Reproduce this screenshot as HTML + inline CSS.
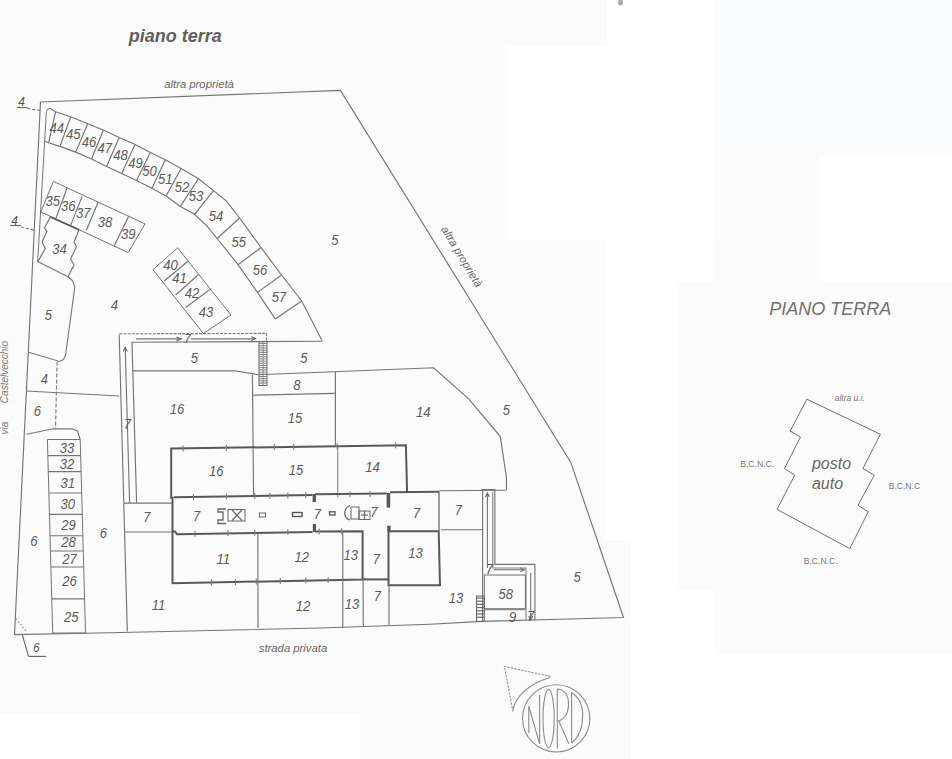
<!DOCTYPE html>
<html><head><meta charset="utf-8"><style>
html,body{margin:0;padding:0;background:#fbfbfb;}
svg{display:block;font-family:"Liberation Sans",sans-serif;}
</style></head><body>
<svg width="952" height="759" viewBox="0 0 952 759">

<rect x="0" y="0" width="952" height="759" fill="#fbfbfb"/>
<rect x="715" y="0" width="237" height="155" fill="#fafbfc"/>
<g fill="#ffffff">
<rect x="607" y="0" width="108" height="46"/>
<rect x="508" y="46" width="207" height="194"/>
<rect x="605" y="240" width="109" height="41"/>
<rect x="605" y="281" width="72" height="259"/>
<rect x="631" y="540" width="46" height="219"/>
<rect x="0" y="714" width="360" height="45"/>
<rect x="820" y="155" width="132" height="126"/>
<rect x="676" y="590" width="39" height="169"/>
<rect x="715" y="655" width="237" height="104"/>
</g>

<text transform="translate(128.7 36.2)" font-size="18" fill="#606060" font-style="italic" font-weight="bold" text-anchor="start" dominant-baseline="central">piano terra</text>
<text transform="translate(164.2 84.4)" font-size="11.3" fill="#666" font-style="italic" font-weight="normal" text-anchor="start" dominant-baseline="central">altra propriet&#224;</text>
<path d="M40.5 102.0 L340.4 90.4 L570.8 462.4 L623.5 617.5 L560.0 619.2 L482.0 621.4 L430.0 624.3 L320.0 628.0 L110.0 632.8 L14.5 634.6 L40.5 102.0" stroke="#747474" stroke-width="1.15" fill="none"/>
<text transform="translate(21.5 102.0)" font-size="12" fill="#555" font-style="italic" font-weight="normal" text-anchor="middle" dominant-baseline="central">4</text>
<path d="M16.8 107.5 L27.3 107.5" stroke="#666" stroke-width="1.15" fill="none"/>
<path d="M27.3 108.4 L40.0 110.5" stroke="#777" stroke-width="1.15" fill="none" stroke-dasharray="3 2"/>
<text transform="translate(14.7 220.5)" font-size="12" fill="#555" font-style="italic" font-weight="normal" text-anchor="middle" dominant-baseline="central">4</text>
<path d="M10.0 225.5 L21.0 225.5" stroke="#666" stroke-width="1.15" fill="none"/>
<path d="M21.0 227.0 L35.3 230.5" stroke="#777" stroke-width="1.15" fill="none" stroke-dasharray="3 2"/>
<path d="M50 108.3 Q46.6 108.5 46.3 112.5 L37.7 261.6" fill="none" stroke="#747474" stroke-width="1"/>
<path d="M50.0 108.3 L55.5 111.8 L70.7 116.8 L87.7 123.7 L103.4 130.0 L119.2 137.6 L135.0 144.5 L150.3 152.6 L165.3 159.8 L181.1 168.5 L198.5 178.7 L213.5 190.6 L226.2 200.9 L239.6 218.0 L250.7 233.3 L261.0 247.5 L281.5 275.0 L301.7 301.0 L322.0 340.4" stroke="#747474" stroke-width="1.15" fill="none"/>
<path d="M44.6 141.2 L48.6 142.8 L60.0 146.4 L75.7 152.1 L91.5 159.0 L106.6 166.6 L121.7 173.5 L136.5 180.5 L151.9 188.2 L166.1 196.1 L180.3 206.4 L194.5 214.3 L206.4 225.4 L217.0 238.5 L227.0 250.7 L238.0 264.7 L257.5 292.4 L275.2 318.9" stroke="#747474" stroke-width="1.15" fill="none"/>
<path d="M55.5 111.8 L48.6 142.8" stroke="#747474" stroke-width="1.15" fill="none"/>
<path d="M70.7 116.8 L60.0 146.4" stroke="#747474" stroke-width="1.15" fill="none"/>
<path d="M87.7 123.7 L75.7 152.1" stroke="#747474" stroke-width="1.15" fill="none"/>
<path d="M103.4 130.0 L91.5 159.0" stroke="#747474" stroke-width="1.15" fill="none"/>
<path d="M119.2 137.6 L106.6 166.6" stroke="#747474" stroke-width="1.15" fill="none"/>
<path d="M135.0 144.5 L121.7 173.5" stroke="#747474" stroke-width="1.15" fill="none"/>
<path d="M150.3 152.6 L136.5 180.5" stroke="#747474" stroke-width="1.15" fill="none"/>
<path d="M165.3 159.8 L151.9 188.2" stroke="#747474" stroke-width="1.15" fill="none"/>
<path d="M181.1 168.5 L166.1 196.1" stroke="#747474" stroke-width="1.15" fill="none"/>
<path d="M198.5 178.7 L180.3 206.4" stroke="#747474" stroke-width="1.15" fill="none"/>
<path d="M213.5 190.6 L194.5 214.3" stroke="#747474" stroke-width="1.15" fill="none"/>
<path d="M239.6 218.0 L217.0 238.5" stroke="#747474" stroke-width="1.15" fill="none"/>
<path d="M261.0 247.5 L238.0 264.7" stroke="#747474" stroke-width="1.15" fill="none"/>
<path d="M281.5 275.0 L257.5 292.4" stroke="#747474" stroke-width="1.15" fill="none"/>
<path d="M301.7 301.0 L275.2 318.9" stroke="#747474" stroke-width="1.15" fill="none"/>
<text transform="translate(56.8 128.1) scale(0.870 1)" font-size="15" fill="#5a5a5a" font-style="italic" font-weight="normal" text-anchor="middle" dominant-baseline="central">44</text>
<text transform="translate(73.2 133.2) scale(0.870 1)" font-size="15" fill="#5a5a5a" font-style="italic" font-weight="normal" text-anchor="middle" dominant-baseline="central">45</text>
<text transform="translate(88.9 141.4) scale(0.870 1)" font-size="15" fill="#5a5a5a" font-style="italic" font-weight="normal" text-anchor="middle" dominant-baseline="central">46</text>
<text transform="translate(104.7 147.7) scale(0.870 1)" font-size="15" fill="#5a5a5a" font-style="italic" font-weight="normal" text-anchor="middle" dominant-baseline="central">47</text>
<text transform="translate(120.5 154.6) scale(0.870 1)" font-size="15" fill="#5a5a5a" font-style="italic" font-weight="normal" text-anchor="middle" dominant-baseline="central">48</text>
<text transform="translate(135.6 162.2) scale(0.870 1)" font-size="15" fill="#5a5a5a" font-style="italic" font-weight="normal" text-anchor="middle" dominant-baseline="central">49</text>
<text transform="translate(149.5 170.8) scale(0.870 1)" font-size="15" fill="#5a5a5a" font-style="italic" font-weight="normal" text-anchor="middle" dominant-baseline="central">50</text>
<text transform="translate(165.3 178.7) scale(0.870 1)" font-size="15" fill="#5a5a5a" font-style="italic" font-weight="normal" text-anchor="middle" dominant-baseline="central">51</text>
<text transform="translate(181.9 186.6) scale(0.870 1)" font-size="15" fill="#5a5a5a" font-style="italic" font-weight="normal" text-anchor="middle" dominant-baseline="central">52</text>
<text transform="translate(196.1 196.1) scale(0.870 1)" font-size="15" fill="#5a5a5a" font-style="italic" font-weight="normal" text-anchor="middle" dominant-baseline="central">53</text>
<text transform="translate(215.9 215.9) scale(0.870 1)" font-size="15" fill="#5a5a5a" font-style="italic" font-weight="normal" text-anchor="middle" dominant-baseline="central">54</text>
<text transform="translate(238.8 241.2) scale(0.870 1)" font-size="15" fill="#5a5a5a" font-style="italic" font-weight="normal" text-anchor="middle" dominant-baseline="central">55</text>
<text transform="translate(260.0 269.7) scale(0.870 1)" font-size="15" fill="#5a5a5a" font-style="italic" font-weight="normal" text-anchor="middle" dominant-baseline="central">56</text>
<text transform="translate(279.0 296.2) scale(0.870 1)" font-size="15" fill="#5a5a5a" font-style="italic" font-weight="normal" text-anchor="middle" dominant-baseline="central">57</text>
<path d="M53.4 181.4 L145.0 223.9 L128.2 252.6 L40.8 211.9 L53.4 181.4" stroke="#747474" stroke-width="1" fill="none" stroke-linejoin="round"/>
<path d="M67.1 188.0 L55.8 218.7" stroke="#747474" stroke-width="1.15" fill="none"/>
<path d="M82.1 196.4 L70.7 225.1" stroke="#747474" stroke-width="1.15" fill="none"/>
<path d="M98.3 201.7 L86.3 230.5" stroke="#747474" stroke-width="1.15" fill="none"/>
<path d="M128.8 216.1 L114.4 245.5" stroke="#747474" stroke-width="1.15" fill="none"/>
<text transform="translate(52.8 201.1) scale(0.870 1)" font-size="15" fill="#5a5a5a" font-style="italic" font-weight="normal" text-anchor="middle" dominant-baseline="central">35</text>
<text transform="translate(68.3 205.9) scale(0.870 1)" font-size="15" fill="#5a5a5a" font-style="italic" font-weight="normal" text-anchor="middle" dominant-baseline="central">36</text>
<text transform="translate(83.3 212.5) scale(0.870 1)" font-size="15" fill="#5a5a5a" font-style="italic" font-weight="normal" text-anchor="middle" dominant-baseline="central">37</text>
<text transform="translate(104.9 222.1) scale(0.870 1)" font-size="15" fill="#5a5a5a" font-style="italic" font-weight="normal" text-anchor="middle" dominant-baseline="central">38</text>
<text transform="translate(128.2 234.1) scale(0.870 1)" font-size="15" fill="#5a5a5a" font-style="italic" font-weight="normal" text-anchor="middle" dominant-baseline="central">39</text>
<path d="M50.4 217.0 L44.5 228.0 L47.0 231.3 L42.0 242.3 L45.4 248.2 L40.3 257.4 L37.8 261.6 L68.0 276.7 L74.0 265.0 L70.6 259.0 L76.5 246.5 L74.0 242.3 L79.0 229.7" stroke="#747474" stroke-width="1.15" fill="none"/>
<path d="M50.4 217.0 L79.0 229.7" stroke="#555" stroke-width="1.6" fill="none"/>
<text transform="translate(59.4 248.4) scale(0.870 1)" font-size="15" fill="#5a5a5a" font-style="italic" font-weight="normal" text-anchor="middle" dominant-baseline="central">34</text>
<path d="M68.0 276.7 L72.5 280.5 L74.8 287.0 L65.5 355.6 L63.5 359.5 L59.7 361.5 L28.6 352.3" stroke="#7a7a7a" stroke-width="1.15" fill="none"/>
<path d="M57.1 361.5 L55.5 428.8" stroke="#7a7a7a" stroke-width="1.15" fill="none" stroke-dasharray="4 2"/>
<path d="M26.0 391.0 L119.3 396.0" stroke="#747474" stroke-width="1.15" fill="none"/>
<path d="M177.6 247.8 L231.0 315.0 L203.4 333.5 L153.0 269.7 L177.6 247.8" stroke="#747474" stroke-width="1" fill="none" stroke-linejoin="round"/>
<path d="M188.2 261.0 L164.3 281.0" stroke="#747474" stroke-width="1.15" fill="none"/>
<path d="M198.3 274.8 L175.6 295.0" stroke="#747474" stroke-width="1.15" fill="none"/>
<path d="M211.0 288.6 L185.7 307.5" stroke="#747474" stroke-width="1.15" fill="none"/>
<text transform="translate(170.6 264.7) scale(0.870 1)" font-size="15" fill="#5a5a5a" font-style="italic" font-weight="normal" text-anchor="middle" dominant-baseline="central">40</text>
<text transform="translate(179.4 277.3) scale(0.870 1)" font-size="15" fill="#5a5a5a" font-style="italic" font-weight="normal" text-anchor="middle" dominant-baseline="central">41</text>
<text transform="translate(192.0 292.4) scale(0.870 1)" font-size="15" fill="#5a5a5a" font-style="italic" font-weight="normal" text-anchor="middle" dominant-baseline="central">42</text>
<text transform="translate(205.9 311.3) scale(0.870 1)" font-size="15" fill="#5a5a5a" font-style="italic" font-weight="normal" text-anchor="middle" dominant-baseline="central">43</text>
<path d="M119.2 333.8 L266.4 333.4 L266.4 342.0" stroke="#777" stroke-width="1.15" fill="none" stroke-dasharray="3 1.2"/>
<path d="M119.2 334.7 L127.3 631.4" stroke="#747474" stroke-width="1.15" fill="none"/>
<path d="M322.6 341.2 L132.0 342.3 L136.6 503.0" stroke="#747474" stroke-width="1.15" fill="none"/>
<path d="M129.6 503.0 L125.2 347.0" stroke="#777" stroke-width="1.15" fill="none"/>
<path d="M136.0 338.9 L182.0 338.9" stroke="#777" stroke-width="1.15" fill="none"/>
<path d="M191.0 338.9 L255.6 338.9" stroke="#777" stroke-width="1.15" fill="none"/>
<text transform="translate(187.4 338.9)" font-size="12" fill="#5a5a5a" font-style="italic" font-weight="normal" text-anchor="middle" dominant-baseline="central">7</text>
<text transform="translate(127.3 423.2) scale(0.870 1)" font-size="15" fill="#5a5a5a" font-style="italic" font-weight="normal" text-anchor="middle" dominant-baseline="central">7</text>
<path d="M124.0 503.1 L172.4 503.1" stroke="#747474" stroke-width="1.15" fill="none"/>
<path d="M125.0 532.0 L173.6 532.0" stroke="#747474" stroke-width="1.15" fill="none"/>
<rect x="259" y="341.5" width="8" height="44" fill="none" stroke="#666" stroke-width="1"/>
<path d="M259.0 343.5 L267.0 343.5" stroke="#777" stroke-width="0.9" fill="none"/>
<path d="M259.0 345.7 L267.0 345.7" stroke="#777" stroke-width="0.9" fill="none"/>
<path d="M259.0 347.9 L267.0 347.9" stroke="#777" stroke-width="0.9" fill="none"/>
<path d="M259.0 350.1 L267.0 350.1" stroke="#777" stroke-width="0.9" fill="none"/>
<path d="M259.0 352.3 L267.0 352.3" stroke="#777" stroke-width="0.9" fill="none"/>
<path d="M259.0 354.5 L267.0 354.5" stroke="#777" stroke-width="0.9" fill="none"/>
<path d="M259.0 356.7 L267.0 356.7" stroke="#777" stroke-width="0.9" fill="none"/>
<path d="M259.0 358.9 L267.0 358.9" stroke="#777" stroke-width="0.9" fill="none"/>
<path d="M259.0 361.1 L267.0 361.1" stroke="#777" stroke-width="0.9" fill="none"/>
<path d="M259.0 363.3 L267.0 363.3" stroke="#777" stroke-width="0.9" fill="none"/>
<path d="M259.0 365.5 L267.0 365.5" stroke="#777" stroke-width="0.9" fill="none"/>
<path d="M259.0 367.7 L267.0 367.7" stroke="#777" stroke-width="0.9" fill="none"/>
<path d="M259.0 369.9 L267.0 369.9" stroke="#777" stroke-width="0.9" fill="none"/>
<path d="M259.0 372.1 L267.0 372.1" stroke="#777" stroke-width="0.9" fill="none"/>
<path d="M259.0 374.3 L267.0 374.3" stroke="#777" stroke-width="0.9" fill="none"/>
<path d="M259.0 376.5 L267.0 376.5" stroke="#777" stroke-width="0.9" fill="none"/>
<path d="M259.0 378.7 L267.0 378.7" stroke="#777" stroke-width="0.9" fill="none"/>
<path d="M259.0 380.9 L267.0 380.9" stroke="#777" stroke-width="0.9" fill="none"/>
<path d="M259.0 383.1 L267.0 383.1" stroke="#777" stroke-width="0.9" fill="none"/>
<path d="M263.0 342.0 L263.0 385.0" stroke="#777" stroke-width="0.8" fill="none"/>
<path d="M176.5 341.0 L180.5 339.0 L176.5 337.0" stroke="#666" stroke-width="1.15" fill="none"/>
<path d="M251.3 340.6 L255.3 338.6 L251.3 336.6" stroke="#666" stroke-width="1.15" fill="none"/>
<path d="M127.3 351.4 L125.2 347.5 L123.3 351.6" stroke="#666" stroke-width="1.15" fill="none"/>
<path d="M489.4 497.0 L487.4 493.0 L485.4 497.0" stroke="#666" stroke-width="1.15" fill="none"/>
<path d="M520.3 571.7 L524.3 569.7 L520.3 567.7" stroke="#666" stroke-width="1.15" fill="none"/>
<path d="M528.7 616.0 L530.7 620.0 L532.7 616.0" stroke="#666" stroke-width="1.15" fill="none"/>
<path d="M132.0 370.8 L234.8 370.8 L258.0 374.7 L433.6 367.8 L468.7 398.8 L500.3 436.6 L506.5 478.0 L506.4 490.2" stroke="#747474" stroke-width="1.15" fill="none"/>
<path d="M252.4 374.7 L253.6 497.0" stroke="#747474" stroke-width="1.15" fill="none"/>
<path d="M252.4 395.2 L335.4 393.4" stroke="#747474" stroke-width="1.15" fill="none"/>
<path d="M335.4 372.0 L335.4 445.2" stroke="#747474" stroke-width="1.15" fill="none"/>
<path d="M337.7 445.2 L337.7 497.0" stroke="#888" stroke-width="1.15" fill="none"/>
<path d="M171.2 499.0 L171.2 448.6 L405.9 445.2 L407.1 492.3" stroke="#585858" stroke-width="2" fill="none"/>
<path d="M173.6 497.3 L312.6 495.0" stroke="#585858" stroke-width="2" fill="none"/>
<rect x="312.6" y="494" width="3.4" height="8" fill="#585858"/>
<path d="M315.0 494.2 L386.6 493.4" stroke="#585858" stroke-width="2" fill="none"/>
<rect x="386.6" y="493" width="3.6" height="14.6" fill="#585858"/>
<path d="M390.0 492.3 L439.3 491.8" stroke="#585858" stroke-width="2" fill="none"/>
<path d="M172.5 497.0 L172.5 583.3 L362.6 579.4 L362.6 531.2 L315.0 531.5" stroke="#585858" stroke-width="2" fill="none"/>
<path d="M172.5 531.5 L175.0 531.5 L177.0 534.3 L312.6 532.0" stroke="#585858" stroke-width="2" fill="none"/>
<rect x="312.8" y="524" width="3.2" height="8" fill="#585858"/>
<rect x="387.4" y="525.7" width="3.2" height="6" fill="#585858"/>
<path d="M388.5 526.0 L388.5 585.2 L440.0 585.2 L438.7 531.2 L389.0 531.2" stroke="#585858" stroke-width="2" fill="none"/>
<path d="M439.0 491.8 L439.0 531.2" stroke="#6a6a6a" stroke-width="1.3" fill="none"/>
<path d="M362.6 579.4 L388.5 579.4" stroke="#585858" stroke-width="2" fill="none"/>
<path d="M257.9 534.0 L258.0 628.0" stroke="#747474" stroke-width="1.15" fill="none"/>
<path d="M342.8 531.0 L342.8 628.0" stroke="#747474" stroke-width="1.15" fill="none"/>
<path d="M363.1 579.0 L363.3 626.0" stroke="#747474" stroke-width="1.15" fill="none"/>
<path d="M389.0 585.0 L389.0 625.0" stroke="#747474" stroke-width="1.15" fill="none"/>
<path d="M441.0 529.7 L482.6 529.7" stroke="#747474" stroke-width="1.15" fill="none"/>
<path d="M439.3 490.8 L505.7 490.2" stroke="#747474" stroke-width="1.15" fill="none"/>
<path d="M482.6 490.0 L482.6 621.0" stroke="#747474" stroke-width="1.15" fill="none"/>
<path d="M183.0 445.4 L183.0 451.4" stroke="#808080" stroke-width="1.15" fill="none"/>
<path d="M226.4 444.8 L226.4 450.8" stroke="#808080" stroke-width="1.15" fill="none"/>
<path d="M274.3 444.1 L274.3 450.1" stroke="#808080" stroke-width="1.15" fill="none"/>
<path d="M293.7 443.8 L293.7 449.8" stroke="#808080" stroke-width="1.15" fill="none"/>
<path d="M337.2 443.2 L337.2 449.2" stroke="#808080" stroke-width="1.15" fill="none"/>
<path d="M395.5 442.3 L395.5 448.3" stroke="#808080" stroke-width="1.15" fill="none"/>
<path d="M193.4 494.0 L193.4 500.0" stroke="#808080" stroke-width="1.15" fill="none"/>
<path d="M226.4 493.4 L226.4 499.4" stroke="#808080" stroke-width="1.15" fill="none"/>
<path d="M254.8 492.9 L254.8 498.9" stroke="#808080" stroke-width="1.15" fill="none"/>
<path d="M269.8 492.7 L269.8 498.7" stroke="#808080" stroke-width="1.15" fill="none"/>
<path d="M287.8 492.4 L287.8 498.4" stroke="#808080" stroke-width="1.15" fill="none"/>
<path d="M305.7 492.1 L305.7 498.1" stroke="#808080" stroke-width="1.15" fill="none"/>
<path d="M350.0 491.3 L350.0 497.3" stroke="#808080" stroke-width="1.15" fill="none"/>
<path d="M370.0 491.0 L370.0 497.0" stroke="#808080" stroke-width="1.15" fill="none"/>
<path d="M195.0 530.7 L195.0 536.7" stroke="#808080" stroke-width="1.15" fill="none"/>
<path d="M227.9 530.1 L227.9 536.1" stroke="#808080" stroke-width="1.15" fill="none"/>
<path d="M254.8 529.7 L254.8 535.7" stroke="#808080" stroke-width="1.15" fill="none"/>
<path d="M287.8 529.1 L287.8 535.1" stroke="#808080" stroke-width="1.15" fill="none"/>
<path d="M319.2 528.6 L319.2 534.6" stroke="#808080" stroke-width="1.15" fill="none"/>
<path d="M341.6 528.2 L341.6 534.2" stroke="#808080" stroke-width="1.15" fill="none"/>
<path d="M211.4 579.5 L211.4 585.5" stroke="#808080" stroke-width="1.15" fill="none"/>
<path d="M235.4 579.0 L235.4 585.0" stroke="#808080" stroke-width="1.15" fill="none"/>
<path d="M256.3 578.6 L256.3 584.6" stroke="#808080" stroke-width="1.15" fill="none"/>
<path d="M280.3 578.1 L280.3 584.1" stroke="#808080" stroke-width="1.15" fill="none"/>
<path d="M305.7 577.6 L305.7 583.6" stroke="#808080" stroke-width="1.15" fill="none"/>
<path d="M328.2 577.1 L328.2 583.1" stroke="#808080" stroke-width="1.15" fill="none"/>
<path d="M226 509 L218 509 L218 512 L223 512 L223 520 L218 520 L218 523.5 L226 523.5" fill="none" stroke="#666" stroke-width="1.3"/>
<rect x="228" y="509.5" width="17" height="11.5" fill="none" stroke="#666" stroke-width="1"/>
<path d="M232.0 510.0 L242.0 520.5" stroke="#666" stroke-width="1.15" fill="none"/>
<path d="M232.0 520.5 L242.0 510.0" stroke="#666" stroke-width="1.15" fill="none"/>
<rect x="259.5" y="513" width="6" height="4" fill="none" stroke="#666" stroke-width="1"/>
<rect x="292.5" y="512.5" width="9.5" height="4" fill="none" stroke="#555" stroke-width="1.4"/>
<rect x="329.5" y="511.8" width="5.5" height="3.2" fill="none" stroke="#555" stroke-width="1.3"/>
<path d="M350 505.5 C343 508 343 518 350 520" fill="none" stroke="#666" stroke-width="1.2"/>
<rect x="351" y="507" width="8" height="12" fill="none" stroke="#666" stroke-width="1"/>
<rect x="359" y="511" width="11" height="8.5" fill="none" stroke="#666" stroke-width="1"/>
<path d="M361.0 515.0 L368.0 515.0" stroke="#666" stroke-width="1.15" fill="none"/>
<path d="M364.5 511.0 L364.5 519.5" stroke="#666" stroke-width="1.15" fill="none"/>
<path d="M481.7 489.5 L494.8 489.5 L494.8 564.4 L534.9 564.4 L534.9 620.3" stroke="#747474" stroke-width="1.15" fill="none"/>
<path d="M487.4 568.0 L487.4 493.0" stroke="#777" stroke-width="1.15" fill="none"/>
<path d="M492.7 492.0 L492.7 568.0 L526.0 568.0 L526.0 620.0" stroke="#888" stroke-width="1.15" fill="none"/>
<path d="M494.0 569.7 L524.3 569.7" stroke="#777" stroke-width="1.15" fill="none"/>
<path d="M530.7 573.0 L530.7 620.0" stroke="#777" stroke-width="1.15" fill="none"/>
<rect x="484.3" y="575" width="41.1" height="33.7" fill="none" stroke="#707070" stroke-width="1"/>
<path d="M484.3 609.7 L525.4 609.7" stroke="#747474" stroke-width="1.15" fill="none"/>
<rect x="476.5" y="596" width="7.8" height="25.4" fill="none" stroke="#666" stroke-width="1"/>
<path d="M476.5 598.0 L484.3 598.0" stroke="#666" stroke-width="1.15" fill="none"/>
<path d="M476.5 601.2 L484.3 601.2" stroke="#666" stroke-width="1.15" fill="none"/>
<path d="M476.5 604.4 L484.3 604.4" stroke="#666" stroke-width="1.15" fill="none"/>
<path d="M476.5 607.6 L484.3 607.6" stroke="#666" stroke-width="1.15" fill="none"/>
<path d="M476.5 610.8 L484.3 610.8" stroke="#666" stroke-width="1.15" fill="none"/>
<path d="M476.5 614.0 L484.3 614.0" stroke="#666" stroke-width="1.15" fill="none"/>
<path d="M476.5 617.2 L484.3 617.2" stroke="#666" stroke-width="1.15" fill="none"/>
<path d="M26.7 434.2 L53.4 428.8 L72.0 428.8 L77.5 431.0 L80.2 439.5" stroke="#747474" stroke-width="1.15" fill="none"/>
<path d="M47.4 439.5 L80.2 439.5 L85.5 633.0 L52.7 633.0 L47.4 439.5" stroke="#747474" stroke-width="1" fill="none" stroke-linejoin="round"/>
<path d="M47.8 455.6 L80.6 455.6" stroke="#747474" stroke-width="1.15" fill="none"/>
<path d="M48.3 471.6 L81.1 471.6" stroke="#747474" stroke-width="1.15" fill="none"/>
<path d="M48.9 493.0 L81.7 493.0" stroke="#747474" stroke-width="1.15" fill="none"/>
<path d="M49.4 514.3 L82.2 514.3" stroke="#747474" stroke-width="1.15" fill="none"/>
<path d="M50.0 535.7 L82.8 535.7" stroke="#747474" stroke-width="1.15" fill="none"/>
<path d="M50.5 551.0 L83.3 551.0" stroke="#747474" stroke-width="1.15" fill="none"/>
<path d="M50.9 567.0 L83.7 567.0" stroke="#747474" stroke-width="1.15" fill="none"/>
<path d="M51.8 598.8 L84.6 598.8" stroke="#747474" stroke-width="1.15" fill="none"/>
<text transform="translate(67.0 447.7) scale(0.870 1)" font-size="15" fill="#5a5a5a" font-style="italic" font-weight="normal" text-anchor="middle" dominant-baseline="central">33</text>
<text transform="translate(67.0 463.4) scale(0.870 1)" font-size="15" fill="#5a5a5a" font-style="italic" font-weight="normal" text-anchor="middle" dominant-baseline="central">32</text>
<text transform="translate(67.7 482.3) scale(0.870 1)" font-size="15" fill="#5a5a5a" font-style="italic" font-weight="normal" text-anchor="middle" dominant-baseline="central">31</text>
<text transform="translate(67.7 503.7) scale(0.870 1)" font-size="15" fill="#5a5a5a" font-style="italic" font-weight="normal" text-anchor="middle" dominant-baseline="central">30</text>
<text transform="translate(68.4 525.0) scale(0.870 1)" font-size="15" fill="#5a5a5a" font-style="italic" font-weight="normal" text-anchor="middle" dominant-baseline="central">29</text>
<text transform="translate(68.4 541.8) scale(0.870 1)" font-size="15" fill="#5a5a5a" font-style="italic" font-weight="normal" text-anchor="middle" dominant-baseline="central">28</text>
<text transform="translate(69.5 558.9) scale(0.870 1)" font-size="15" fill="#5a5a5a" font-style="italic" font-weight="normal" text-anchor="middle" dominant-baseline="central">27</text>
<text transform="translate(69.5 581.0) scale(0.870 1)" font-size="15" fill="#5a5a5a" font-style="italic" font-weight="normal" text-anchor="middle" dominant-baseline="central">26</text>
<text transform="translate(71.3 616.3) scale(0.870 1)" font-size="15" fill="#5a5a5a" font-style="italic" font-weight="normal" text-anchor="middle" dominant-baseline="central">25</text>
<path d="M22.1 634.2 L28.5 656.4" stroke="#666" stroke-width="1.15" fill="none"/>
<path d="M15.8 618.4 L26.0 631.0" stroke="#999" stroke-width="1.15" fill="none" stroke-dasharray="2 1.5"/>
<path d="M28.5 656.4 L45.8 656.4" stroke="#666" stroke-width="1.15" fill="none"/>
<text transform="translate(36.4 648.0) scale(0.920 1)" font-size="13" fill="#5a5a5a" font-style="italic" font-weight="normal" text-anchor="middle" dominant-baseline="central">6</text>
<ellipse cx="620.5" cy="2.5" rx="2.5" ry="3" fill="#aaa"/>
<text transform="translate(335.0 239.2) scale(0.870 1)" font-size="15" fill="#5a5a5a" font-style="italic" font-weight="normal" text-anchor="middle" dominant-baseline="central">5</text>
<text transform="translate(114.3 305.0) scale(0.870 1)" font-size="15" fill="#5a5a5a" font-style="italic" font-weight="normal" text-anchor="middle" dominant-baseline="central">4</text>
<text transform="translate(48.3 315.0) scale(0.870 1)" font-size="15" fill="#5a5a5a" font-style="italic" font-weight="normal" text-anchor="middle" dominant-baseline="central">5</text>
<text transform="translate(44.5 379.0) scale(0.870 1)" font-size="15" fill="#5a5a5a" font-style="italic" font-weight="normal" text-anchor="middle" dominant-baseline="central">4</text>
<text transform="translate(37.4 411.0) scale(0.870 1)" font-size="15" fill="#5a5a5a" font-style="italic" font-weight="normal" text-anchor="middle" dominant-baseline="central">6</text>
<text transform="translate(194.4 357.4) scale(0.870 1)" font-size="15" fill="#5a5a5a" font-style="italic" font-weight="normal" text-anchor="middle" dominant-baseline="central">5</text>
<text transform="translate(304.0 357.4) scale(0.870 1)" font-size="15" fill="#5a5a5a" font-style="italic" font-weight="normal" text-anchor="middle" dominant-baseline="central">5</text>
<text transform="translate(297.0 385.0) scale(0.870 1)" font-size="15" fill="#5a5a5a" font-style="italic" font-weight="normal" text-anchor="middle" dominant-baseline="central">8</text>
<text transform="translate(177.0 408.2) scale(0.870 1)" font-size="15" fill="#5a5a5a" font-style="italic" font-weight="normal" text-anchor="middle" dominant-baseline="central">16</text>
<text transform="translate(294.9 417.4) scale(0.870 1)" font-size="15" fill="#5a5a5a" font-style="italic" font-weight="normal" text-anchor="middle" dominant-baseline="central">15</text>
<text transform="translate(423.2 411.7) scale(0.870 1)" font-size="15" fill="#5a5a5a" font-style="italic" font-weight="normal" text-anchor="middle" dominant-baseline="central">14</text>
<text transform="translate(506.5 410.0) scale(0.870 1)" font-size="15" fill="#5a5a5a" font-style="italic" font-weight="normal" text-anchor="middle" dominant-baseline="central">5</text>
<text transform="translate(216.3 470.6) scale(0.870 1)" font-size="15" fill="#5a5a5a" font-style="italic" font-weight="normal" text-anchor="middle" dominant-baseline="central">16</text>
<text transform="translate(296.0 469.4) scale(0.870 1)" font-size="15" fill="#5a5a5a" font-style="italic" font-weight="normal" text-anchor="middle" dominant-baseline="central">15</text>
<text transform="translate(372.4 467.1) scale(0.870 1)" font-size="15" fill="#5a5a5a" font-style="italic" font-weight="normal" text-anchor="middle" dominant-baseline="central">14</text>
<text transform="translate(147.0 517.0) scale(0.870 1)" font-size="15" fill="#5a5a5a" font-style="italic" font-weight="normal" text-anchor="middle" dominant-baseline="central">7</text>
<text transform="translate(196.7 515.8) scale(0.870 1)" font-size="15" fill="#5a5a5a" font-style="italic" font-weight="normal" text-anchor="middle" dominant-baseline="central">7</text>
<text transform="translate(317.3 513.5) scale(0.870 1)" font-size="15" fill="#5a5a5a" font-style="italic" font-weight="normal" text-anchor="middle" dominant-baseline="central">7</text>
<text transform="translate(374.0 511.2) scale(0.870 1)" font-size="15" fill="#5a5a5a" font-style="italic" font-weight="normal" text-anchor="middle" dominant-baseline="central">7</text>
<text transform="translate(416.7 512.4) scale(0.870 1)" font-size="15" fill="#5a5a5a" font-style="italic" font-weight="normal" text-anchor="middle" dominant-baseline="central">7</text>
<text transform="translate(458.3 510.0) scale(0.870 1)" font-size="15" fill="#5a5a5a" font-style="italic" font-weight="normal" text-anchor="middle" dominant-baseline="central">7</text>
<text transform="translate(223.2 558.6) scale(0.870 1)" font-size="15" fill="#5a5a5a" font-style="italic" font-weight="normal" text-anchor="middle" dominant-baseline="central">11</text>
<text transform="translate(301.8 556.3) scale(0.870 1)" font-size="15" fill="#5a5a5a" font-style="italic" font-weight="normal" text-anchor="middle" dominant-baseline="central">12</text>
<text transform="translate(350.8 555.0) scale(0.870 1)" font-size="15" fill="#5a5a5a" font-style="italic" font-weight="normal" text-anchor="middle" dominant-baseline="central">13</text>
<text transform="translate(376.3 558.6) scale(0.870 1)" font-size="15" fill="#5a5a5a" font-style="italic" font-weight="normal" text-anchor="middle" dominant-baseline="central">7</text>
<text transform="translate(415.6 552.8) scale(0.870 1)" font-size="15" fill="#5a5a5a" font-style="italic" font-weight="normal" text-anchor="middle" dominant-baseline="central">13</text>
<text transform="translate(158.5 604.8) scale(0.870 1)" font-size="15" fill="#5a5a5a" font-style="italic" font-weight="normal" text-anchor="middle" dominant-baseline="central">11</text>
<text transform="translate(303.0 606.0) scale(0.870 1)" font-size="15" fill="#5a5a5a" font-style="italic" font-weight="normal" text-anchor="middle" dominant-baseline="central">12</text>
<text transform="translate(352.0 603.6) scale(0.870 1)" font-size="15" fill="#5a5a5a" font-style="italic" font-weight="normal" text-anchor="middle" dominant-baseline="central">13</text>
<text transform="translate(377.4 595.6) scale(0.870 1)" font-size="15" fill="#5a5a5a" font-style="italic" font-weight="normal" text-anchor="middle" dominant-baseline="central">7</text>
<text transform="translate(456.0 597.9) scale(0.870 1)" font-size="15" fill="#5a5a5a" font-style="italic" font-weight="normal" text-anchor="middle" dominant-baseline="central">13</text>
<text transform="translate(505.7 593.2) scale(0.870 1)" font-size="15" fill="#5a5a5a" font-style="italic" font-weight="normal" text-anchor="middle" dominant-baseline="central">58</text>
<text transform="translate(512.6 616.4) scale(0.870 1)" font-size="15" fill="#5a5a5a" font-style="italic" font-weight="normal" text-anchor="middle" dominant-baseline="central">9</text>
<text transform="translate(489.5 569.0) scale(0.870 1)" font-size="15" fill="#5a5a5a" font-style="italic" font-weight="normal" text-anchor="middle" dominant-baseline="central">7</text>
<text transform="translate(530.7 616.0) scale(0.870 1)" font-size="15" fill="#5a5a5a" font-style="italic" font-weight="normal" text-anchor="middle" dominant-baseline="central">7</text>
<text transform="translate(577.1 577.1) scale(0.870 1)" font-size="15" fill="#5a5a5a" font-style="italic" font-weight="normal" text-anchor="middle" dominant-baseline="central">5</text>
<text transform="translate(33.8 541.0) scale(0.870 1)" font-size="15" fill="#5a5a5a" font-style="italic" font-weight="normal" text-anchor="middle" dominant-baseline="central">6</text>
<text transform="translate(103.3 532.2) scale(0.870 1)" font-size="15" fill="#5a5a5a" font-style="italic" font-weight="normal" text-anchor="middle" dominant-baseline="central">6</text>
<text transform="translate(293.0 648.0)" font-size="11.3" fill="#666" font-style="italic" font-weight="normal" text-anchor="middle" dominant-baseline="central">strada privata</text>
<text transform="translate(462.0 256.5) rotate(59)" font-size="11.2" fill="#666" font-style="italic" font-weight="normal" text-anchor="middle" dominant-baseline="central">altra propriet&#224;</text>
<text transform="translate(4.0 372.0) rotate(-90)" font-size="10" fill="#777" font-style="italic" font-weight="normal" text-anchor="middle" dominant-baseline="central">Castelvecchio</text>
<text transform="translate(4.0 428.0) rotate(-90)" font-size="10" fill="#777" font-style="italic" font-weight="normal" text-anchor="middle" dominant-baseline="central">via</text>
<circle cx="556.2" cy="718.4" r="33.6" fill="none" stroke="#8a8a8a" stroke-width="1.1"/>
<path d="M513.0 711.7 L504.4 666.5 L551.7 676.6" stroke="#999" stroke-width="1.15" fill="none" stroke-dasharray="2.5 1"/>
<path d="M513 709 C516 697 528 684 550 677.5" fill="none" stroke="#8a8a8a" stroke-width="1.1"/>
<path d="M528.8 733.0 L528.8 706.1 L539.6 743.9 L539.6 695.0" stroke="#8a8a8a" stroke-width="1.1" fill="none"/>
<ellipse cx="548.6" cy="718.5" rx="5.6" ry="29" fill="none" stroke="#8a8a8a" stroke-width="1.1"/>
<path d="M557.3 748.5 L557.3 689 C566 690 569 697 568.5 706 C568 715 563 720 558.7 720.9 L568.9 743.9" fill="none" stroke="#8a8a8a" stroke-width="1.1"/>
<path d="M571.6 743 L571.6 692.8 C579 697 583 706 582.7 716 C582.5 728 578 738 571.6 743" fill="none" stroke="#8a8a8a" stroke-width="1.1"/>
<text transform="translate(830.2 308.6)" font-size="18" fill="#707070" font-style="italic" font-weight="normal" text-anchor="middle" dominant-baseline="central">PIANO TERRA</text>
<text transform="translate(849.8 398.4)" font-size="8.5" fill="#777" font-style="italic" font-weight="normal" text-anchor="middle" dominant-baseline="central">altra u.i.</text>
<path d="M806.9 399.2 L880.4 434.3 L862.9 468.6 L874.3 475.1 L858.0 505.3 L868.2 511.8 L849.8 548.6 L777.1 509.4 L794.7 475.1 L784.5 468.6 L800.4 437.1 L790.2 431.0 L806.9 399.2" stroke="#707070" stroke-width="1" fill="none" stroke-linejoin="round"/>
<text transform="translate(831.5 463.0)" font-size="16" fill="#666" font-style="italic" font-weight="normal" text-anchor="middle" dominant-baseline="central">posto</text>
<text transform="translate(827.5 483.5)" font-size="16" fill="#666" font-style="italic" font-weight="normal" text-anchor="middle" dominant-baseline="central">auto</text>
<text transform="translate(757.2 463.7)" font-size="8.6" fill="#777" font-style="normal" font-weight="normal" text-anchor="middle" dominant-baseline="central">B.C.N.C.</text>
<text transform="translate(904.4 486.0)" font-size="8.6" fill="#777" font-style="normal" font-weight="normal" text-anchor="middle" dominant-baseline="central">B.C.N.C</text>
<text transform="translate(820.7 560.8)" font-size="8.6" fill="#777" font-style="normal" font-weight="normal" text-anchor="middle" dominant-baseline="central">B.C.N.C.</text>
</svg>
</body></html>
